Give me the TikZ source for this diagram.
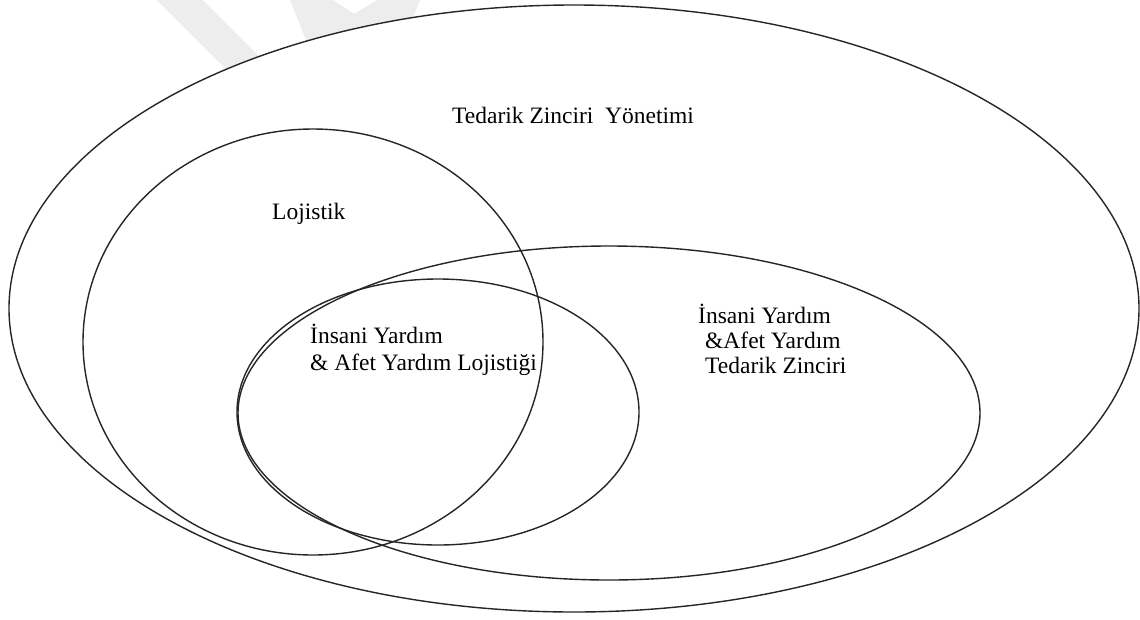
\documentclass[tikz,border=0pt]{standalone}
\usepackage{fontspec}
\setmainfont{Liberation Serif}
\begin{document}
\begin{tikzpicture}[x=1pt,y=-1pt,
    lbl/.style={anchor=base west,inner sep=0pt,font=\fontsize{23.5}{27}\selectfont}]
    \useasboundingbox (0,0) rectangle (1140,619);
    \fill[black!7] (157,0)--(203,0)--(303,100)--(257,100)--cycle;
    \fill[black!7] (290,0)--(333,0)--(354,14)--(377,0)--(420,0)--(380,100)--(330,100)--cycle;
    \draw[line width=1.4pt,black!85,fill=white]
        (574,308.5) ellipse [x radius=565, y radius=303.5];
    \foreach \cx/\cy/\rx/\ry in {
        313/342/230/213,
        609/413/371/167,
        438/412/201/133}{
        \draw[line width=1.4pt,black!85]
            (\cx,\cy) ellipse [x radius=\rx, y radius=\ry];
    }
    \node[lbl] (scm) at (452,123) {Tedarik Zinciri\ \ Yönetimi};
    \node[lbl] (log) at (272,219) {Lojistik};
    \node[lbl] (hl1) at (310,343) {İnsani Yardım};
    \node[lbl] (hl2) at (310,370) {\& Afet Yardım Lojistiği};
    \node[lbl] (hs1) at (698,323) {İnsani Yardım};
    \node[lbl] (hs2) at (705,348) {\&Afet Yardım};
    \node[lbl] (hs3) at (705,373) {Tedarik Zinciri};
\end{tikzpicture}
\end{document}
